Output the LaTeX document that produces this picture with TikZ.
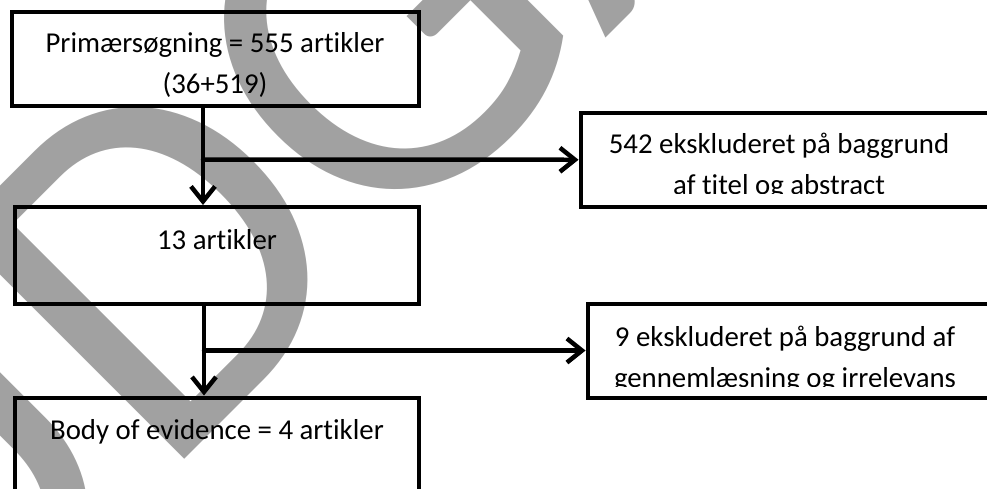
\documentclass[tikz,border=0pt]{standalone}
\usepackage{fontspec}
\setmainfont{Carlito}[Ligatures=NoCommon]
\usetikzlibrary{arrows.meta}

\tikzset{
  box/.style={draw, line width=0.08cm, inner sep=0pt},
  txt/.style={font=\fontsize{16.4}{23.2}\selectfont, align=center, inner sep=0pt, anchor=base},
  arr/.style={line width=0.09cm, line cap=round, -{Straight Barb[length=0.3cm,width=0.48cm]}},
  watermark/.style={text=black!37, font=\fontsize{287}{287}\selectfont, rotate=45, anchor=base west, inner sep=0pt}
}

\begin{document}
\begin{tikzpicture}[x=0.02cm, y=-0.02cm]
\useasboundingbox (0,0) rectangle (987,488);

% grey watermark behind everything
\begin{scope}
\clip (0,0) rectangle (987,488);
\node[watermark] (wm) at (-68.9,712.5) {UDGA};
\end{scope}

% left column
\node[box, minimum width=8.16cm, minimum height=1.88cm] (prim) at (215.5,59) {};
\node[txt] (primtxt) at (215,93) {Primærsøgning = 555 artikler\\(36+519)};

\node[box, minimum width=8.08cm, minimum height=1.93cm] (thirteen) at (217,255.25) {};
\node[txt] (thirteentxt) at (217,249) {13 artikler};

\node[box, minimum width=8.08cm, minimum height=2.45cm] (body) at (217,458.75) {};
\node[txt] (bodytxt) at (217,439) {Body of evidence = 4 artikler};

% right column
\node[box, minimum width=8.3cm, minimum height=1.89cm] (excl1) at (788,159.75) {};
\begin{scope}
\clip (583,115) rectangle (990,193.5);
\node[txt] (excl1txt) at (779,194) {542 ekskluderet på baggrund\\af titel og abstract};
\end{scope}

\node[box, minimum width=8.16cm, minimum height=1.88cm] (excl2) at (791.5,350.5) {};
\begin{scope}
\clip (590,306) rectangle (990,386);
\node[txt] (excl2txt) at (785,387) {9 ekskluderet på baggrund af\\gennemlæsning og irrelevans};
\end{scope}

% connectors
\coordinate (split1) at (203,159.5);
\coordinate (split2) at (204,350.5);

\draw[arr] (split1 |- prim.south) -- (split1 |- thirteen.north);
\draw[arr] (split1) -- (excl1.west);

\draw[arr] (split2 |- thirteen.south) -- (split2 |- body.north);
\draw[arr] (split2) -- (excl2.west);
\end{tikzpicture}
\end{document}
